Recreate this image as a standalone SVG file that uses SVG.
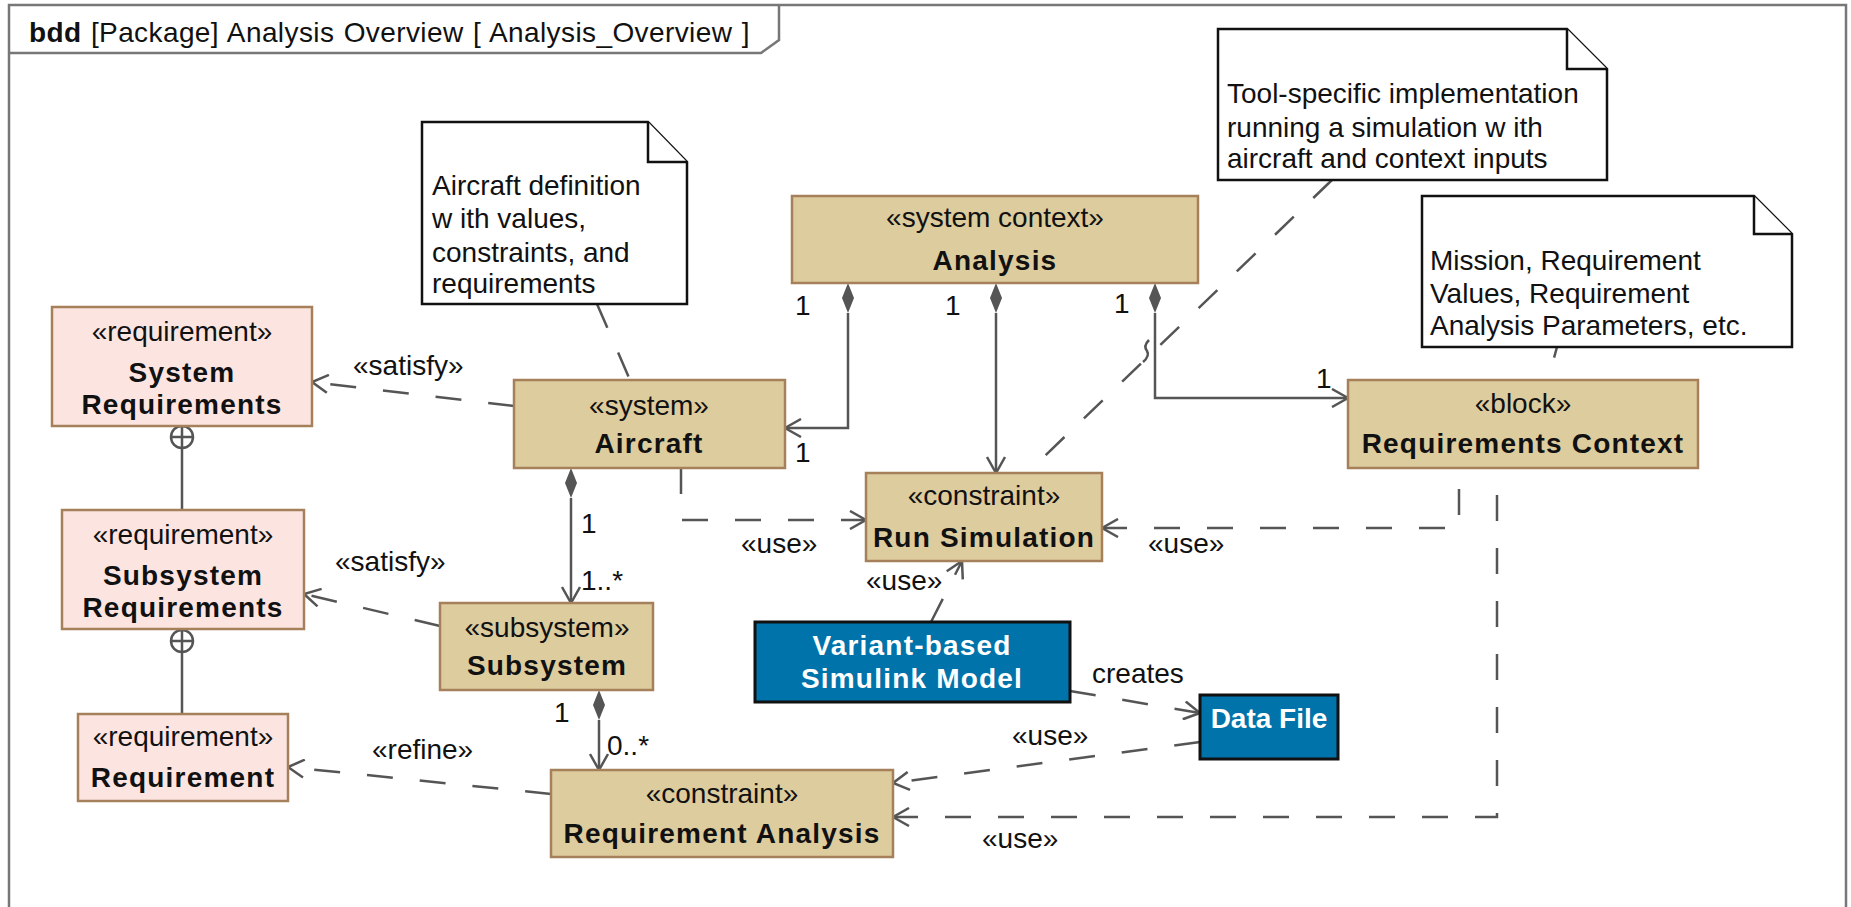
<svg xmlns="http://www.w3.org/2000/svg" xmlns:xlink="http://www.w3.org/1999/xlink" width="1851" height="907" viewBox="0 0 1851 907">
<style>
.t{font-family:"Liberation Sans",Arial,sans-serif;font-size:28px;fill:#111}
.c{text-anchor:middle}
.b{font-weight:bold;letter-spacing:1.2px}
.w{fill:#fff}
.blk{fill:#DDCC9E;stroke:#A5805A;stroke-width:2.5}
.req{fill:#FCE5E1;stroke:#A5805A;stroke-width:2.5}
.blue{fill:#0073AA;stroke:#111;stroke-width:3}
.note{fill:#fff;stroke:#111;stroke-width:2.5}
.ln{fill:none;stroke:#555;stroke-width:2.5}
.dash{stroke-dasharray:26 27}
</style>
<defs>
<marker id="arr" markerUnits="userSpaceOnUse" viewBox="0 0 20 20" refX="18" refY="10" markerWidth="20" markerHeight="20" orient="auto">
<path d="M2,1 L18,10 L2,19" fill="none" stroke="#555" stroke-width="2.5"/>
</marker>
<path id="dia" d="M0,0 L6,15 L0,30 L-6,15 Z" fill="#555"/>
<g id="cplus"><circle cx="0" cy="0" r="11" fill="#fff" stroke="#555" stroke-width="2.5"/><path d="M-11,0 H11 M0,-11 V11" stroke="#555" stroke-width="2.5"/></g>
</defs>
<rect width="1851" height="907" fill="#fff"/>
<g id="frame">
<rect x="9" y="5" width="1837" height="930" fill="none" stroke="#777" stroke-width="2.5"/>
<path d="M9,53 L761,53 L779,40 L779,5" fill="none" stroke="#777" stroke-width="2.5"/>
<text class="t" x="29" y="42" style="letter-spacing:0.4px;word-spacing:1.2px"><tspan font-weight="bold">bdd</tspan> [Package] Analysis Overview [ Analysis_Overview ]</text>
</g>
<g id="connectors">
<use href="#dia" x="848" y="283"/>
<path class="ln" d="M848,313 V428 H785" marker-end="url(#arr)"/>
<use href="#dia" x="996" y="283"/>
<path class="ln" d="M996,313 V473" marker-end="url(#arr)"/>
<use href="#dia" x="1155" y="283"/>
<path class="ln" d="M1155,313 V398 H1348" marker-end="url(#arr)"/>
<use href="#dia" x="571" y="468"/>
<path class="ln" d="M571,498 V603" marker-end="url(#arr)"/>
<use href="#dia" x="599" y="690"/>
<path class="ln" d="M599,720 V770" marker-end="url(#arr)"/>
<path class="ln" d="M182,448 V510 M182,652 V714"/>
<use href="#cplus" x="182" y="437"/>
<use href="#cplus" x="182" y="641"/>
<path class="ln dash" d="M514,406 L312,382" marker-end="url(#arr)"/>
<path class="ln dash" d="M440,626 L304,594" marker-end="url(#arr)"/>
<path class="ln dash" d="M551,794 L288,767" marker-end="url(#arr)"/>
<path class="ln dash" d="M681,468 V520 H866" marker-end="url(#arr)"/>
<path class="ln dash" d="M931,622 L962,561" marker-end="url(#arr)"/>
<path class="ln dash" d="M1070,691 L1200,713" marker-end="url(#arr)"/>
<path class="ln dash" d="M1200,742 L893,783" marker-end="url(#arr)"/>
<path class="ln dash" style="stroke-dashoffset:26" d="M1497,468 V817 H893" marker-end="url(#arr)"/>
<path class="ln dash" style="stroke-dashoffset:32" d="M1459,468 V528 H1102" marker-end="url(#arr)"/>
<path class="ln dash" d="M597,304 L630,380"/>
<path class="ln dash" d="M1332,180 L1027,473"/>
<path class="ln" d="M1149,340 q-6,6 -2,11 q3,5 -4,11"/>
<path class="ln dash" style="stroke-dashoffset:15" d="M1557,347 L1548,380"/>
<text class="t" x="353" y="375">«satisfy»</text>
<text class="t" x="335" y="571">«satisfy»</text>
<text class="t" x="372" y="759">«refine»</text>
<text class="t" x="741" y="553">«use»</text>
<text class="t" x="866" y="590">«use»</text>
<text class="t" x="1092" y="683">creates</text>
<text class="t" x="1012" y="745">«use»</text>
<text class="t" x="982" y="848">«use»</text>
<text class="t" x="1148" y="553">«use»</text>
<text class="t" x="795" y="315">1</text>
<text class="t" x="795" y="462">1</text>
<text class="t" x="945" y="315">1</text>
<text class="t" x="1114" y="313">1</text>
<text class="t" x="1316" y="388">1</text>
<text class="t" x="581" y="533">1</text>
<text class="t" x="581" y="590">1..*</text>
<text class="t" x="554" y="722">1</text>
<text class="t" x="607" y="755">0..*</text>
</g>
<g id="note-aircraft">
<path class="note" d="M422,122 L648,122 L687,162 L687,304 L422,304 Z"/>
<path class="note" d="M648,122 V162 H687" fill="none"/>
<text class="t" x="432" y="195">Aircraft definition</text>
<text class="t" x="432" y="228">w ith values,</text>
<text class="t" x="432" y="262">constraints, and</text>
<text class="t" x="432" y="293">requirements</text>
</g>
<g id="note-tool">
<path class="note" d="M1218,29 L1567,29 L1607,69 L1607,180 L1218,180 Z"/>
<path class="note" d="M1567,29 V69 H1607" fill="none"/>
<text class="t" x="1227" y="103">Tool-specific implementation</text>
<text class="t" x="1227" y="137">running a simulation w ith</text>
<text class="t" x="1227" y="168">aircraft and context inputs</text>
</g>
<g id="note-mission">
<path class="note" d="M1422,196 L1754,196 L1792,234 L1792,347 L1422,347 Z"/>
<path class="note" d="M1754,196 V234 H1792" fill="none"/>
<text class="t" x="1430" y="270">Mission, Requirement</text>
<text class="t" x="1430" y="303">Values, Requirement</text>
<text class="t" x="1430" y="335">Analysis Parameters, etc.</text>
</g>
<g id="system-requirements">
<rect class="req" x="52" y="307" width="260" height="119"/>
<text class="t c" x="182" y="341">«requirement»</text>
<text class="t c b" x="182" y="382">System</text>
<text class="t c b" x="182" y="414">Requirements</text>
</g>
<g id="subsystem-requirements">
<rect class="req" x="62" y="510" width="242" height="119"/>
<text class="t c" x="183" y="544">«requirement»</text>
<text class="t c b" x="183" y="585">Subsystem</text>
<text class="t c b" x="183" y="617">Requirements</text>
</g>
<g id="requirement">
<rect class="req" x="78" y="714" width="210" height="87"/>
<text class="t c" x="183" y="746">«requirement»</text>
<text class="t c b" x="183" y="787">Requirement</text>
</g>
<g id="aircraft">
<rect class="blk" x="514" y="380" width="271" height="88"/>
<text class="t c" x="649" y="415">«system»</text>
<text class="t c b" x="649" y="453">Aircraft</text>
</g>
<g id="analysis">
<rect class="blk" x="792" y="196" width="406" height="87"/>
<text class="t c" x="995" y="227">«system context»</text>
<text class="t c b" x="995" y="270">Analysis</text>
</g>
<g id="run-simulation">
<rect class="blk" x="866" y="473" width="236" height="88"/>
<text class="t c" x="984" y="505">«constraint»</text>
<text class="t c b" x="984" y="547">Run Simulation</text>
</g>
<g id="requirements-context">
<rect class="blk" x="1348" y="380" width="350" height="88"/>
<text class="t c" x="1523" y="413">«block»</text>
<text class="t c b" x="1523" y="453">Requirements Context</text>
</g>
<g id="subsystem">
<rect class="blk" x="440" y="603" width="213" height="87"/>
<text class="t c" x="547" y="637">«subsystem»</text>
<text class="t c b" x="547" y="675">Subsystem</text>
</g>
<g id="requirement-analysis">
<rect class="blk" x="551" y="770" width="342" height="87"/>
<text class="t c" x="722" y="803">«constraint»</text>
<text class="t c b" x="722" y="843">Requirement Analysis</text>
</g>
<g id="variant-model">
<rect class="blue" x="755" y="622" width="315" height="80"/>
<text class="t c b w" x="912" y="655">Variant-based</text>
<text class="t c b w" x="912" y="688">Simulink Model</text>
</g>
<g id="data-file">
<rect class="blue" x="1200" y="695" width="138" height="64"/>
<text class="t c b w" x="1269" y="728" style="letter-spacing:0">Data File</text>
</g>
</svg>
